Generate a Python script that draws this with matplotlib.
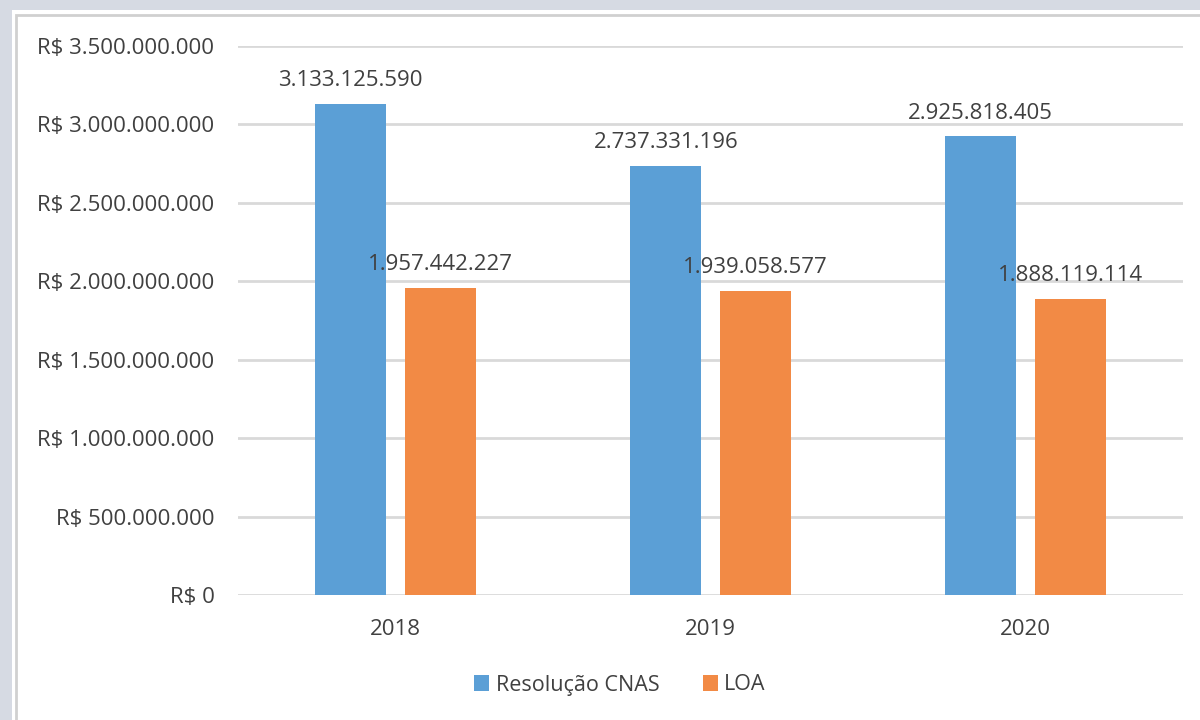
import matplotlib.pyplot as plt
from matplotlib.patches import Rectangle
import numpy as np

# data
years = ["2018", "2019", "2020"]
resolucao_cnas = [3133125590, 2737331196, 2925818405]
loa = [1957442227, 1939058577, 1888119114]
y_ticks = [0, 500000000, 1000000000, 1500000000, 2000000000,
           2500000000, 3000000000, 3500000000]

BLUE = "#5b9fd6"
ORANGE = "#f28a45"
TEXT = "#404040"

plt.rcParams['font.family'] = ['Open Sans', 'DejaVu Sans']


def fmt_br(v):
    return "{:,}".format(int(v)).replace(",", ".")


fig = plt.figure(figsize=(12, 7.2), dpi=100)
fig.patch.set_facecolor("#d6dae3")

# white panel with thin grey frame, kept behind the axes
panel = Rectangle((12 / 1200, 0), 1 - 12 / 1200, 1 - 10 / 720,
                  transform=fig.transFigure, facecolor="white",
                  edgecolor="none", zorder=-2)
fig.patches.append(panel)
frame = Rectangle((16 / 1200, -0.01), 1.0, 1 - 15 / 720 + 0.01,
                  transform=fig.transFigure, facecolor="none",
                  edgecolor="#d0d0d0", linewidth=2, zorder=-1)
fig.patches.append(frame)

ax = fig.add_axes([238 / 1200, 1 - 595 / 720, 945 / 1200, 549 / 720])
ax.set_zorder(2)
ax.set_facecolor("none")

x = np.arange(len(years))
w = 0.225
off = 0.142
b1 = ax.bar(x - off, resolucao_cnas, w, color=BLUE, label="Resolução CNAS", zorder=3)
b2 = ax.bar(x + off, loa, w, color=ORANGE, label="LOA", zorder=3)

for bars, vals in ((b1, resolucao_cnas), (b2, loa)):
    for r, v in zip(bars, vals):
        ax.annotate(fmt_br(v), (r.get_x() + r.get_width() / 2, v),
                    xytext=(0, 9), textcoords="offset points",
                    ha="center", va="bottom", fontsize=16, color=TEXT, zorder=4)

ax.set_xlim(-0.5, 2.5)
ax.set_ylim(0, 3500000000)
ax.set_yticks(y_ticks)
ax.set_yticklabels(["R$ " + fmt_br(t) for t in y_ticks])
ax.set_xticks(x)
ax.set_xticklabels(years)
ax.tick_params(axis="both", length=0, labelsize=16, colors=TEXT)
ax.tick_params(axis="y", pad=17)
ax.tick_params(axis="x", pad=17)
ax.grid(axis="y", color="#d9d9d9", linewidth=2, zorder=0)
ax.set_axisbelow(True)
for s in ax.spines.values():
    s.set_visible(False)

fig.legend(handles=[b1, b2], loc="center", bbox_to_anchor=(620 / 1200, 1 - 685 / 720),
           ncol=2, frameon=False, fontsize=15.5, labelcolor=TEXT,
           handlelength=0.7, handleheight=0.7, handletextpad=0.3, columnspacing=2.0)

fig.savefig("out.png", dpi=100, facecolor=fig.get_facecolor())
